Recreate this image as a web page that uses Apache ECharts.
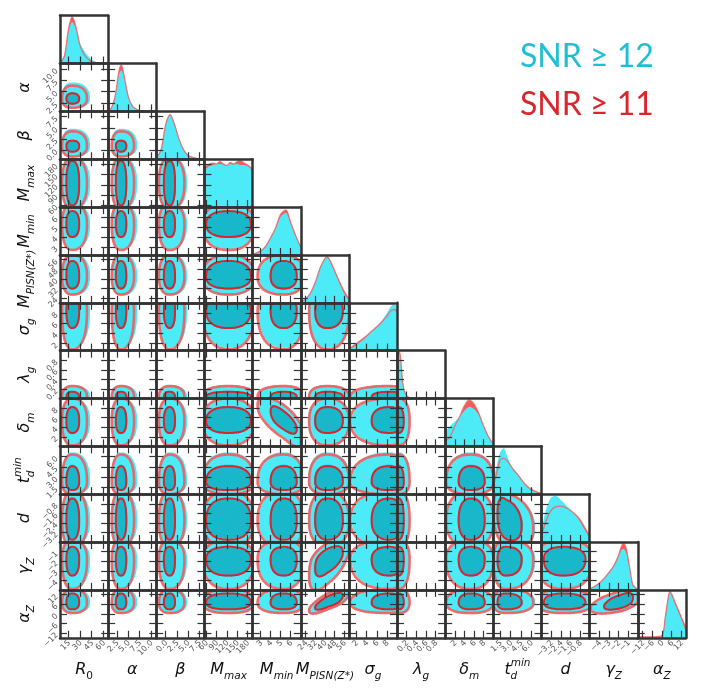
<!DOCTYPE html>
<html>
<head>
<meta charset="utf-8">
<script src="https://cdn.jsdelivr.net/npm/echarts@6/dist/echarts.min.js"></script>
<style>
  html, body { margin: 0; background: #fff; }
  #chart { width: 702px; height: 699px; }
</style>
</head>
<body>
<div id="chart"></div>
<script>
    // parameter order: R0, alpha, beta, Mmax, Mmin, MPISN, sigma_g, lambda_g, delta_m, td_min, d, gamma_Z, alpha_Z
    var axisMin = [4.3, 0.6, -2.1, 55, 2.2, 20, 0.5, 0, 0, 0.5, -4, -5, -15];
    var axisMax = [66.3, 11.2, 8.7, 195, 7.0, 60, 10, 1, 10, 7.5, 0, 0, 15];

    var tickVals = [
        [15, 30, 45, 60], [2.5, 5, 7.5, 10], [0, 2.5, 5, 7.5], [60, 90, 120, 150, 180],
        [3, 4, 5, 6], [24, 32, 40, 48, 56], [2, 4, 6, 8], [0.2, 0.4, 0.6, 0.8],
        [2, 4, 6, 8], [1.5, 3, 4.5, 6], [-3.2, -2.4, -1.6, -0.8], [-4, -3, -2, -1], [-12, -6, 0, 6, 12]
    ];
    var tickText = [
        ['15', '30', '45', '60'], ['2.5', '5.0', '7.5', '10.0'], ['0.0', '2.5', '5.0', '7.5'], ['60', '90', '120', '150', '180'],
        ['3', '4', '5', '6'], ['24', '32', '40', '48', '56'], ['2', '4', '6', '8'], ['0.2', '0.4', '0.6', '0.8'],
        ['2', '4', '6', '8'], ['1.5', '3.0', '4.5', '6.0'], ['−3.2', '−2.4', '−1.6', '−0.8'], ['−4', '−3', '−2', '−1'], ['−12', '−6', '0', '6', '12']
    ];

    // 1D marginals (peak-normalised heights)
    var gridR0 = [4.3, 10, 15, 20, 25, 30, 35, 40, 45, 50, 55, 60, 66];
    var snr12R0 = [0.02, 0.2, 0.65, 0.87, 0.72, 0.43, 0.28, 0.17, 0.08, 0.04, 0.02, 0.01, 0];
    var snr11R0 = [0.01, 0.15, 0.7, 0.98, 0.75, 0.38, 0.2, 0.1, 0.04, 0.02, 0.01, 0, 0];

    var gridAlpha = [0.6, 1, 2, 3, 3.5, 4, 5, 6, 7, 8, 9, 10, 11.2];
    var snr12Alpha = [0, 0.02, 0.3, 0.78, 0.86, 0.75, 0.35, 0.12, 0.05, 0.02, 0.01, 0, 0];
    var snr11Alpha = [0, 0.01, 0.25, 0.85, 0.97, 0.8, 0.32, 0.1, 0.04, 0.01, 0, 0, 0];

    var gridBeta = [-2.1, -1, 0, 1, 2, 3, 4, 5, 6, 7, 8, 8.7];
    var snr12Beta = [0.02, 0.25, 0.75, 0.95, 0.75, 0.45, 0.22, 0.1, 0.05, 0.02, 0.01, 0];
    var snr11Beta = [0.02, 0.2, 0.72, 0.93, 0.72, 0.42, 0.2, 0.08, 0.04, 0.02, 0.01, 0];

    var gridMmax = [55, 60, 70, 80, 90, 100, 110, 120, 130, 140, 150, 160, 170, 180, 190, 195];
    var snr12Mmax = [0.7, 0.8, 0.86, 0.88, 0.9, 0.9, 0.89, 0.88, 0.9, 0.89, 0.9, 0.88, 0.88, 0.86, 0.8, 0.7];
    var snr11Mmax = [0.75, 0.85, 0.9, 0.92, 0.9, 0.95, 0.9, 0.87, 0.93, 0.9, 0.95, 0.97, 0.92, 0.88, 0.82, 0.72];

    var gridMmin = [2.2, 3, 3.5, 4, 4.5, 5, 5.5, 6, 6.5, 7];
    var snr12Mmin = [0.02, 0.1, 0.2, 0.38, 0.57, 0.8, 0.88, 0.65, 0.4, 0.18];
    var snr11Mmin = [0.01, 0.08, 0.18, 0.36, 0.57, 0.85, 0.94, 0.68, 0.4, 0.16];

    var gridMpisn = [20, 24, 28, 32, 36, 40, 42, 44, 48, 52, 56, 60];
    var snr12Mpisn = [0.02, 0.08, 0.22, 0.45, 0.75, 0.93, 0.95, 0.88, 0.65, 0.42, 0.2, 0.06];
    var snr11Mpisn = [0.02, 0.08, 0.2, 0.42, 0.72, 0.92, 0.96, 0.9, 0.68, 0.45, 0.24, 0.08];

    var gridSigma = [0.5, 1, 2, 3, 4, 5, 6, 7, 8, 8.5, 9, 9.5, 10];
    var snr12Sigma = [0.02, 0.05, 0.12, 0.2, 0.29, 0.4, 0.5, 0.63, 0.78, 0.88, 0.95, 0.96, 0.93];
    var snr11Sigma = [0.03, 0.07, 0.15, 0.23, 0.31, 0.41, 0.5, 0.6, 0.72, 0.8, 0.85, 0.86, 0.8];

    var gridLambda = [0, 0.02, 0.05, 0.08, 0.1, 0.12, 0.15, 0.2, 0.25, 0.3, 0.4, 0.6, 0.8, 1];
    var snr12Lambda = [0.5, 0.85, 0.97, 0.8, 0.55, 0.35, 0.18, 0.07, 0.03, 0.01, 0, 0, 0, 0];
    var snr11Lambda = [0.5, 0.9, 0.98, 0.78, 0.52, 0.32, 0.16, 0.06, 0.02, 0.01, 0, 0, 0, 0];

    var gridDelta = [0, 1, 2, 3, 4, 5, 6, 7, 8, 9, 10];
    var snr12Delta = [0.3, 0.42, 0.52, 0.62, 0.75, 0.83, 0.78, 0.65, 0.42, 0.2, 0.05];
    var snr11Delta = [0.1, 0.2, 0.42, 0.62, 0.85, 0.97, 0.88, 0.68, 0.42, 0.2, 0.05];

    var gridTd = [0.5, 1, 1.5, 2, 2.5, 3, 3.5, 4, 5, 6, 7, 7.5];
    var snr12Td = [0.3, 0.6, 0.88, 0.96, 0.8, 0.62, 0.5, 0.42, 0.22, 0.08, 0.03, 0.02];
    var snr11Td = [0.15, 0.45, 0.72, 0.75, 0.7, 0.6, 0.5, 0.42, 0.23, 0.1, 0.04, 0.02];

    var gridD = [-4, -3.6, -3.2, -2.8, -2.4, -2.0, -1.6, -1.2, -0.8, -0.4, 0];
    var snr12D = [0.25, 0.7, 0.93, 0.96, 0.88, 0.78, 0.68, 0.57, 0.43, 0.25, 0.1];
    var snr11D = [0.15, 0.45, 0.66, 0.74, 0.75, 0.72, 0.66, 0.58, 0.47, 0.3, 0.12];

    var gridGammaZ = [-5, -4.5, -4, -3.5, -3, -2.5, -2, -1.75, -1.5, -1.25, -1, -0.75, -0.5, 0];
    var snr12GammaZ = [0.02, 0.08, 0.15, 0.25, 0.38, 0.52, 0.72, 0.82, 0.86, 0.8, 0.6, 0.35, 0.1, 0.01];
    var snr11GammaZ = [0.02, 0.07, 0.14, 0.24, 0.36, 0.5, 0.72, 0.88, 0.97, 0.9, 0.65, 0.35, 0.1, 0.01];

    var gridAlphaZ = [-15, -10, -5, 0, 2, 4, 5, 6, 8, 10, 12, 14, 15];
    var snr12AlphaZ = [0.01, 0.01, 0.01, 0.05, 0.45, 0.88, 0.96, 0.9, 0.72, 0.56, 0.4, 0.22, 0.15];
    var snr11AlphaZ = [0.02, 0.02, 0.02, 0.04, 0.4, 0.85, 0.97, 0.92, 0.76, 0.6, 0.44, 0.28, 0.2];

    // 2D credible regions, per parameter: mode, inner (1σ) and outer (2σ) bounds
    var mode = [20, 3.4, 0.9, 125, 5.3, 42, 8.5, 0.03, 5.3, 2.3, -2.2, -1.8, 7];
    var in12Lo = [12, 2.2, -0.5, 58, 3.9, 31, 4.8, -0.1, 2.6, 1.1, -3.7, -3.6, 2.5];
    var in12Hi = [30, 4.8, 2.3, 192, 6.6, 55, 11, 0.15, 8.4, 4.8, -0.4, -0.6, 13];
    var out12Lo = [6.5, 1.3, -1.6, 48, 2.8, 26, 1.1, -0.1, 0.3, 0.5, -4.3, -4.8, 0.2];
    var out12Hi = [43, 7.0, 4.8, 202, 7.3, 61, 12, 0.27, 10, 6.6, 0.2, 0.1, 16];
    var in11Lo = [12.5, 2.3, -0.4, 60, 4.0, 32, 5.0, -0.1, 2.8, 1.1, -3.8, -3.5, 2.8];
    var in11Hi = [29, 4.6, 2.1, 190, 6.6, 55, 11, 0.14, 8.2, 4.6, -0.35, -0.5, 12.8];
    var out11Lo = [7, 1.4, -1.5, 50, 2.7, 27, 0.8, -0.1, 0.2, 0.5, -4.4, -4.9, 0.5];
    var out11Hi = [39, 6.3, 4.2, 200, 7.3, 60, 12, 0.26, 10, 6.3, 0.25, 0.2, 15.5];
    // correlated pairs: [x parameter, y parameter, rho]
    var corrPairs = [[4, 8, -0.7], [5, 12, 0.75], [11, 12, 0.55], [5, 11, 0.55], [9, 10, -0.3]];

    var marginals = [
        [gridR0, snr12R0, snr11R0], [gridAlpha, snr12Alpha, snr11Alpha], [gridBeta, snr12Beta, snr11Beta],
        [gridMmax, snr12Mmax, snr11Mmax], [gridMmin, snr12Mmin, snr11Mmin], [gridMpisn, snr12Mpisn, snr11Mpisn],
        [gridSigma, snr12Sigma, snr11Sigma], [gridLambda, snr12Lambda, snr11Lambda], [gridDelta, snr12Delta, snr11Delta],
        [gridTd, snr12Td, snr11Td], [gridD, snr12D, snr11D], [gridGammaZ, snr12GammaZ, snr11GammaZ],
        [gridAlphaZ, snr12AlphaZ, snr11AlphaZ]
    ];
    var levels = [
        [in12Lo, in12Hi, out12Lo, out12Hi],
        [in11Lo, in11Hi, out11Lo, out11Hi]
    ];

    var INK = '#333';
    var CYAN = '#4deaf7', TEAL = '#18b7ca', RED_LIGHT = '#f45c5c', RED_DARK = '#d8262d';
    var L = 60, T = 15.7, CW = 48.15, CH = 47.85, N = 13;

    function pairs(xs, ys) {
        return xs.map(function (x, n) { return [x, ys[n]]; });
    }

    function paramAxis(k, gridIndex, position, ticks) {
        return {
            type: 'value', gridIndex: gridIndex, position: position,
            min: axisMin[k], max: axisMax[k], z: 10,
            axisLine: {show: true, onZero: false, lineStyle: {color: INK, width: 2.5}},
            axisTick: {show: ticks, inside: true, length: 7, customValues: tickVals[k],
                lineStyle: {color: INK, width: 1.2}},
            axisLabel: {show: false},
            splitLine: {show: false}
        };
    }

    // rotated tick labels, placed through the cell's own scale
    function tickLabelSeries(k, xAxisIndex, yAxisIndex, onX) {
        return {
            type: 'custom', xAxisIndex: xAxisIndex, yAxisIndex: yAxisIndex, clip: false, silent: true, z: 12,
            data: tickVals[k].map(function (v, n) { return [v, n]; }),
            renderItem: function (params, api) {
                var cs = params.coordSys, v = api.value(0), n = api.value(1);
                var x, y;
                if (onX) {
                    x = api.coord([v, 0])[0] + 1;
                    y = cs.y + cs.height + 4;
                } else {
                    x = cs.x - 3;
                    y = api.coord([0, v])[1] + 1;
                }
                return {
                    type: 'text', x: x, y: y, rotation: Math.PI / 4,
                    style: {text: tickText[k][n], fontFamily: 'DejaVu Sans', fontSize: 8, fill: '#555',
                        align: 'right', verticalAlign: 'middle'}
                };
            }
        };
    }

    function correlation(px, py) {
        for (var n = 0; n < corrPairs.length; n++) {
            if (corrPairs[n][0] === px && corrPairs[n][1] === py) return corrPairs[n][2];
        }
        return 0;
    }

    function contourRenderer(px, py) {
        var rho = correlation(px, py);
        return function (params, api) {
            var lvl = api.value(0);
            var set = levels[lvl < 2 ? 0 : 1];
            var inner = lvl % 2 === 1;
            var lo = inner ? set[0] : set[2], hi = inner ? set[1] : set[3];
            var cx = mode[px], cy = mode[py];
            var P = 2.4, pts = [];
            for (var s = 0; s < 72; s++) {
                var t = s / 72 * 2 * Math.PI;
                var c = Math.cos(t), sn = Math.sin(t);
                var u = Math.sign(c) * Math.pow(Math.abs(c), 2 / P);
                var w = Math.sign(sn) * Math.pow(Math.abs(sn), 2 / P);
                var v = rho * u + Math.sqrt(1 - rho * rho) * w;
                var x = u >= 0 ? cx + u * (hi[px] - cx) : cx + u * (cx - lo[px]);
                var y = v >= 0 ? cy + v * (hi[py] - cy) : cy + v * (cy - lo[py]);
                x = Math.min(axisMax[px], Math.max(axisMin[px], x));
                y = Math.min(axisMax[py], Math.max(axisMin[py], y));
                pts.push(api.coord([x, y]));
            }
            var style;
            if (lvl === 0) style = {fill: CYAN};
            else if (lvl === 1) style = {fill: TEAL};
            else if (lvl === 2) style = {fill: 'none', stroke: RED_LIGHT, lineWidth: 2.6, opacity: 0.9};
            else style = {fill: 'none', stroke: RED_DARK, lineWidth: 2};
            return {type: 'polygon', shape: {points: pts, smooth: 0.25}, style: style};
        };
    }

    var grids = [], xAxes = [], yAxes = [], series = [];
    for (var i = 0; i < N; i++) {
        for (var j = 0; j <= i; j++) {
            var g = grids.length;
            grids.push({left: L + j * CW, top: T + i * CH, width: CW, height: CH, containLabel: false});
            var xb = xAxes.length;
            xAxes.push(paramAxis(j, g, 'bottom', true));
            xAxes.push(paramAxis(j, g, 'top', i !== j));
            var ya = yAxes.length;
            if (i === j) {
                yAxes.push({type: 'value', gridIndex: g, position: 'right', min: 0, max: 1, z: 10,
                    axisLine: {show: true, onZero: false, lineStyle: {color: INK, width: 2.5}},
                    axisTick: {show: false}, axisLabel: {show: false}, splitLine: {show: false}});
                yAxes.push(paramAxis(i, g, 'left', i > 0));
                var m = marginals[i];
                series.push({type: 'line', xAxisIndex: xb, yAxisIndex: ya, data: pairs(m[0], m[2]),
                    smooth: 0.3, symbol: 'none', silent: true,
                    lineStyle: {width: 0}, areaStyle: {color: RED_LIGHT, opacity: 1}});
                series.push({type: 'line', xAxisIndex: xb, yAxisIndex: ya, data: pairs(m[0], m[1]),
                    smooth: 0.3, symbol: 'none', silent: true,
                    lineStyle: {width: 0}, areaStyle: {color: CYAN, opacity: 1}});
                series.push({type: 'line', xAxisIndex: xb, yAxisIndex: ya, data: pairs(m[0], m[2]),
                    smooth: 0.3, symbol: 'none', silent: true,
                    lineStyle: {width: 1.3, color: '#f26464', opacity: 0.85}});
            } else {
                yAxes.push(paramAxis(i, g, 'left', true));
                yAxes.push(paramAxis(i, g, 'right', true));
                series.push({type: 'custom', xAxisIndex: xb, yAxisIndex: ya, clip: true, silent: true,
                    renderItem: contourRenderer(j, i), data: [[0], [1], [2], [3]]});
            }
            if (i === N - 1) series.push(tickLabelSeries(j, xb, ya, true));
            if (j === 0 && i > 0) series.push(tickLabelSeries(i, xb, ya, false));
        }
    }

    // axis titles
    var rich = {
        i: {fontFamily: 'DejaVu Sans', fontStyle: 'italic', fontSize: 16, lineHeight: 24, verticalAlign: 'middle', fill: '#111'},
        s: {fontFamily: 'DejaVu Sans', fontStyle: 'italic', fontSize: 10.5, lineHeight: 12, verticalAlign: 'bottom', fill: '#111'},
        n: {fontFamily: 'DejaVu Sans', fontSize: 10.5, lineHeight: 12, verticalAlign: 'bottom', fill: '#111'},
        p: {fontFamily: 'DejaVu Sans', fontStyle: 'italic', fontSize: 10.5, lineHeight: 12, verticalAlign: 'top', fill: '#111'}
    };
    var names = ['{i|R}{n|0}', '{i|α}', '{i|β}', '{i|M}{s|max}', '{i|M}{s|min}', '{i|M}{s|PISN(Z}{n|*}{s|)}',
        '{i|σ}{s|g}', '{i|λ}{s|g}', '{i|δ}{s|m}', null, '{i|d}', '{i|γ}{s|Z}', '{i|α}{s|Z}'];

    function titleGroup(k, x, y, rotation) {
        var children;
        if (names[k] === null) {
            children = [
                {type: 'text', x: 0, y: 0, style: {text: '{i|t}{p|min}', rich: rich, align: 'center', verticalAlign: 'middle'}},
                {type: 'text', x: -7, y: 6, style: {text: 'd', fontFamily: 'DejaVu Sans', fontStyle: 'italic',
                    fontSize: 10.5, fill: '#111', align: 'left', verticalAlign: 'middle'}}
            ];
        } else {
            children = [{type: 'text', x: 0, y: 0, style: {text: names[k], rich: rich, align: 'center', verticalAlign: 'middle'}}];
        }
        return {type: 'group', x: x, y: y, rotation: rotation, children: children};
    }

    var graphics = [];
    for (var k = 0; k < N; k++) {
        graphics.push(titleGroup(k, L + (k + 0.5) * CW, 670, 0));
        if (k > 0) graphics.push(titleGroup(k, 25, T + (k + 0.5) * CH, Math.PI / 2));
    }
    graphics.push({type: 'text', left: 520, top: 41, style: {text: 'SNR ≥ 12', fontFamily: 'Lato',
        fontSize: 32, fill: '#1fbfd3'}});
    graphics.push({type: 'text', left: 520, top: 89, style: {text: 'SNR ≥ 11', fontFamily: 'Lato',
        fontSize: 32, fill: RED_DARK}});

    var myChart = echarts.init(document.getElementById('chart'));
    myChart.setOption({
        animation: false,
        grid: grids,
        xAxis: xAxes,
        yAxis: yAxes,
        series: series,
        graphic: graphics
    });
</script>
</body>
</html>
